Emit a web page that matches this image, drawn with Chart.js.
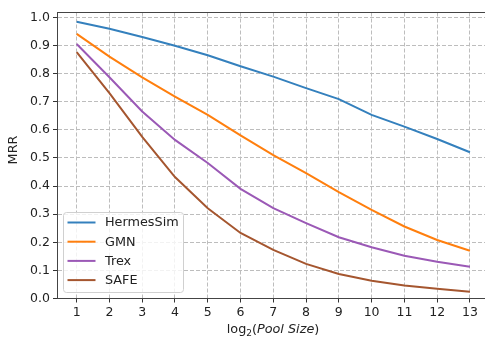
<!DOCTYPE html>
<html>
<head>
<meta charset="utf-8">
<script src="https://cdn.jsdelivr.net/npm/chart.js@4"></script>
<style>
  html, body { margin: 0; padding: 0; overflow: hidden; background: #fff; }
  canvas { display: block; }
</style>
</head>
<body>
<canvas id="chartMrr" width="485" height="337"></canvas>
<script>
// pool sizes (log2) and MRR for each method
var poolLog = [1, 2, 3, 4, 5, 6, 7, 8, 9, 10, 11, 12, 13];
var hermesSim = [0.984, 0.959, 0.930, 0.899, 0.865, 0.826, 0.789, 0.748, 0.709, 0.653, 0.611, 0.567, 0.520];
var gmn = [0.941, 0.860, 0.786, 0.718, 0.653, 0.580, 0.510, 0.446, 0.378, 0.315, 0.256, 0.208, 0.170];
var trex = [0.905, 0.787, 0.665, 0.564, 0.482, 0.390, 0.321, 0.268, 0.218, 0.182, 0.152, 0.131, 0.113];
var safe = [0.876, 0.730, 0.575, 0.432, 0.321, 0.233, 0.173, 0.123, 0.087, 0.063, 0.046, 0.035, 0.024];
var yTicks = [0, 0.1, 0.2, 0.3, 0.4, 0.5, 0.6, 0.7, 0.8, 0.9, 1.0];

var fontName = 'DejaVu Sans';

function pts(arr) {
    return poolLog.map(function (x, i) { return {x: x, y: arr[i]}; });
}

function serie(label, arr, cor, ordem) {
    return {
        label: label,
        data: pts(arr),
        borderColor: cor,
        backgroundColor: cor,
        borderWidth: 2,
        pointRadius: 0,
        tension: 0,
        fill: false,
        order: ordem
    };
}

// top spine, axis titles and legend drawn by hand
var extras = {
    id: 'extras',
    afterDraw: function (chart) {
        var ctx = chart.ctx;
        var a = chart.chartArea;
        ctx.save();
        ctx.strokeStyle = '#444';
        ctx.lineWidth = 1;
        ctx.beginPath();
        ctx.moveTo(a.left, a.top);
        ctx.lineTo(485, a.top);
        ctx.stroke();

        // y title
        ctx.fillStyle = '#222';
        ctx.font = '12.8px "' + fontName + '"';
        ctx.textAlign = 'center';
        ctx.textBaseline = 'middle';
        ctx.translate(14, 150);
        ctx.rotate(-Math.PI / 2);
        ctx.fillText('MRR', 0, 0);
        ctx.setTransform(1, 0, 0, 1, 0, 0);

        // x title: log2(Pool Size)
        var parts = [
            {t: 'log', f: '12.8px "' + fontName + '"', dy: 0},
            {t: '2', f: '9px "' + fontName + '"', dy: 3},
            {t: '(', f: '12.8px "' + fontName + '"', dy: 0},
            {t: 'Pool Size', f: 'oblique 12.8px "' + fontName + '"', dy: 0},
            {t: ')', f: '12.8px "' + fontName + '"', dy: 0}
        ];
        var total = 0;
        parts.forEach(function (p) { ctx.font = p.f; p.w = ctx.measureText(p.t).width; total += p.w; });
        var xx = 273 - total / 2;
        ctx.textAlign = 'left';
        ctx.textBaseline = 'alphabetic';
        parts.forEach(function (p) {
            ctx.font = p.f;
            ctx.fillText(p.t, xx, 333 + p.dy);
            xx += p.w;
        });

        // legend
        var lx = 63.5, ly = 212.5, lw = 120, lh = 80;
        ctx.beginPath();
        ctx.roundRect(lx, ly, lw, lh, 3);
        ctx.fillStyle = 'rgba(255,255,255,0.8)';
        ctx.fill();
        ctx.strokeStyle = '#d0d0d0';
        ctx.stroke();
        ctx.font = '12.8px "' + fontName + '"';
        ctx.textBaseline = 'middle';
        chart.data.datasets.forEach(function (ds, i) {
            var yy = 222.5 + i * 19.2;
            ctx.strokeStyle = ds.borderColor;
            ctx.lineWidth = 2;
            ctx.beginPath();
            ctx.moveTo(67.5, yy);
            ctx.lineTo(95.5, yy);
            ctx.stroke();
            ctx.fillStyle = '#222';
            ctx.fillText(ds.label, 105, yy + 0.5);
        });
        ctx.restore();
    }
};

var ctxMrr = document.getElementById('chartMrr').getContext('2d');
var chart = new Chart(ctxMrr, {
    type: 'line',
    data: {
        datasets: [
            serie('HermesSim', hermesSim, '#3480bd', 4),
            serie('GMN', gmn, '#ff7f0e', 3),
            serie('Trex', trex, '#9b59b6', 2),
            serie('SAFE', safe, '#a5562f', 1)
        ]
    },
    options: {
        responsive: false,
        maintainAspectRatio: false,
        animation: false,
        devicePixelRatio: 1,
        layout: { padding: { top: 12.5, left: 0, right: 0, bottom: 0 } },
        plugins: { legend: { display: false }, tooltip: { enabled: false } },
        scales: {
            x: {
                type: 'linear',
                // original plot box is cut at the right edge of the picture
                min: 0.4,
                max: 13.46,
                afterBuildTicks: function (s) { s.ticks = poolLog.map(function (v) { return {value: v}; }); },
                afterFit: function (s) { s.height = 38.5; },
                ticks: { color: '#222', font: { family: fontName, size: 12.5 }, padding: 3, maxRotation: 0, autoSkip: false },
                grid: { color: '#bdbdbd', lineWidth: 1, tickLength: 4, tickColor: '#333', tickWidth: 1 },
                border: { display: true, color: '#444', width: 1, dash: [4, 2] }
            },
            y: {
                min: 0,
                max: 1.017,
                afterBuildTicks: function (s) { s.ticks = yTicks.map(function (v) { return {value: v}; }); },
                afterFit: function (s) { s.width = 57; },
                ticks: {
                    color: '#222', font: { family: fontName, size: 12.5 }, padding: 3, autoSkip: false,
                    callback: function (v) { return v.toFixed(1); }
                },
                grid: { color: '#bdbdbd', lineWidth: 1, tickLength: 4, tickColor: '#333', tickWidth: 1 },
                border: { display: true, color: '#444', width: 1, dash: [4, 2] }
            }
        }
    },
    plugins: [extras]
});
</script>
</body>
</html>
